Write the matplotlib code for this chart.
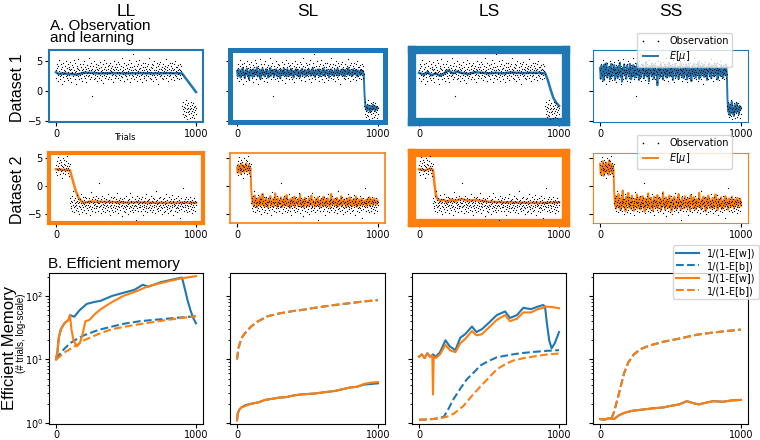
import numpy as np
import matplotlib
matplotlib.use('Agg')
import matplotlib.pyplot as plt

# ---------------- data (values in tenths for the observation / noisy series) -------------
obs1 = [34,21,45,29,38,17,26,41,33,52,24,30,19,36,44,27,31,12,39,28,47,23,35,30,16,
        42,29,33,25,50,38,21,27,44,31,18,36,40,26,34,48,22,30,37,15,29,43,32,24,39,
        28,51,35,20,31,46,26,33,11,38,41,29,24,36,53,30,19,34,27,45,32,22,40,28,35,
        17,44,31,37,25,49,29,33,21,40,36,14,27,43,30,38,24,32,55,26,35,20,41,29,34,
        46,23,30,-8,37,28,42,19,33,50,27,35,22,39,31,45,25,16,36,29,43,34,21,38,30,
        26,48,33,18,40,29,35,24,44,31,13,37,27,52,30,21,39,34,25,46,32,28,41,20,36,
        30,43,23,35,29,47,19,38,33,26,42,31,15,36,28,50,34,22,40,27,37,45,24,32,29,
        39,21,34,48,27,31,44,18,36,30,25,41,33,54,23,35,28,40,16,32,46,29,37,26,43,
        31,24,38,20,45,33,29,51,27,36,14,40,30,22,47,34,26,39,32,62,25,35,19,42,28,
        37,30,49,23,34,27,41,17,33,44,29,36,24,52,31,20,38,26,43,35,28,15,40,32,46,
        25,34,21,39,30,47,27,36,18,42,33,29,45,24,37,31,55,22,35,28,40,19,32,44,26,
        38,29,43,16,34,27,50,31,23,39,35,20,46,30,26,41,33,12,37,28,44,32,24,48,36,
        27,40,22,35,30,45,19,33,38,25,42,29,36,21,53,31,27,39,34,16,43,30,37,24,46,
        32,26,41,35,20,38,29,47,23,34,30,44,18,36,27,50,33,25,40,31,22,39,35,28,43,
        19,37,30,45,26,34,41,22,33,28,
        -25,-38,-31,-19,-44,-27,-33,-22,-40,-29,-35,-16,-42,-30,-24,-47,-28,-36,-21,-33,
        -39,-26,-45,-31,-18,-37,-29,-43,-23,-34,-30,-41,-20,-36,-27,-46,-32,-25,-38,-28]

obs2 = [38,25,44,31,19,36,52,28,41,33,22,47,30,37,26,43,15,35,29,50,
        34,24,40,31,46,27,38,21,33,45,29,36,53,24,32,41,18,35,28,39,
        -31,-22,-40,-27,-35,-18,-44,-29,-33,-9,-38,-25,-47,-30,-21,-36,-28,-42,-34,-16,-39,-26,-31,-45,-23,
        -35,-29,-50,-24,-37,-31,-14,-41,-27,-33,-46,-20,-38,-30,-25,-43,-32,-19,-36,-28,-48,-34,-22,-40,-29,
        -26,-43,-33,-21,-38,-30,-52,-27,-35,-11,-41,-29,-24,-37,-45,-31,-20,-34,-28,-39,-23,-46,-32,-36,-17,
        -40,-28,-35,-25,-44,-31,-22,-38,-30,5,-36,-27,-49,-33,-24,-41,-29,-18,-37,-32,-45,-26,-34,-21,-39,
        -30,-47,-23,-36,-28,-42,-33,-15,-38,-27,-44,-31,-25,-51,-35,-29,-20,-40,-34,-26,-43,-30,-37,-22,-46,
        -33,-19,-39,-28,-45,-31,-24,-36,-41,-27,-12,-35,-30,-48,-25,-38,-32,-21,-43,-29,-36,-26,-54,-34,-23,
        -40,-31,-27,-44,-35,-22,-38,-29,-46,-33,-18,-41,-28,-36,-25,-50,-32,-30,-39,-24,-45,-35,-13,-37,-29,
        -26,-42,-34,-20,-39,-31,-47,-28,-36,-23,-43,-33,-27,-60,-35,-29,-17,-40,-32,-25,-44,-30,-37,-21,-38,
        -34,-28,-45,-24,-36,-31,-19,-41,-29,-52,-33,-26,-38,-22,-44,-30,-35,-14,-40,-27,-47,-32,-25,-39,-30,
        -23,-37,-43,-29,-34,-18,-40,-31,-26,-46,-35,-28,-21,-42,-33,-38,-24,-49,-30,-36,-27,-8,-41,-32,-25,
        -39,-30,-45,-22,-35,-28,-43,-33,-19,-37,-26,-50,-31,-40,-24,-34,-29,-46,-21,-38,-32,-27,-44,-36,-15,
        -30,-41,-25,-37,-33,-48,-28,-20,-39,-35,-27,-44,-31,-23,-42,-34,-16,-38,-29,-51,-26,-36,-32,-24,-45,
        -33,-21,-40,-30,-37,-27,-46,-34,-18,-39,-31,-25,-43,-35,-29,-57,-32,-22,-41,-28,-36,-4,-38,-30,-26,
        -44,-31,-24,-38,-34,-20,-42,-29,-47,-33,-27,-36,-23,-40,-30,-45,-26,-35,-19,-41,-32,-28,-48,-37,-25,
        -34,-29,-42,-22,-37,-31,-26,-44,-33,-28]

# E[mu] of the fast-adapting models (SL, SS), tenths
sl1 = [33,24,36,27,31,22,35,29,38,26,30,21,34,28,37,25,32,19,29,35,27,33,23,36,30,
       26,34,28,39,24,31,27,35,20,33,29,37,26,32,24,30,36,27,34,22,31,28,38,25,33,
       29,35,23,32,27,36,30,24,34,28,31,21,35,29,33,26,38,27,32,30,24,36,28,33,25,
       31,37,26,34,29,22,33,28,36,30,25,35,27,32,23,34,29,37,26,31,28,35,24,33,30,
       27,36,29,32,25,34,28,38,26,31,23,35,30,27,33,29,36,24,32,28,34,26,37,30,25,
       33,29,35,27,31,22,34,28,36,26,32,30,24,35,29,33,27,37,25,31,28,34,30,26,36,
       29,32,24,35,28,33,27,38,30,26,34,29,31,25,36,28,33,27,35,30,
       24,34,29,32,26,35,28,31,33,27,
       -5,-22,-30,-26,-33,-24,-31,-28,-35,-25,-29,-32,-23,-30,-27,-34,-26,-31,-28,-29]
ss1 = [38,20,42,25,35,17,44,28,31,46,22,37,26,40,19,33,45,24,36,29,43,18,34,39,27,
       21,41,30,47,23,36,15,38,32,44,26,35,20,42,29,37,24,45,31,19,39,27,43,33,22,
       40,25,36,46,28,18,41,34,23,37,30,44,21,35,27,48,24,39,31,16,42,29,36,25,45,
       32,20,38,43,26,34,9,37,28,41,23,46,30,35,19,40,27,44,33,22,38,29,47,24,36,
       26,42,31,18,39,34,45,23,37,28,41,20,35,30,46,25,33,40,21,38,27,44,32,19,36,
       43,24,37,29,16,41,33,26,45,30,22,39,35,28,47,20,34,42,25,38,31,44,23,36,27,
       40,18,35,32,46,26,39,21,43,30,37,24,34,45,28,41,19,36,31,38,
       25,43,29,35,22,40,33,27,44,30,
       -15,-35,-22,-40,-26,-33,-18,-38,-29,-42,-24,-31,-36,-21,-34,-27,-39,-25,-32,-28]
sl2 = [33,24,38,27,35,22,40,29,31,37,25,36,28,41,26,34,30,38,23,32,
       -5,-20,-32,-24,-36,-17,-30,-26,-38,-22,-33,-28,-19,-35,-27,-31,-14,-34,-25,-37,
       -29,-21,-33,-27,-39,-24,-30,-18,-35,-28,-32,-23,-36,-26,-13,-31,-29,-37,-22,-34,
       -27,-32,-20,-38,-25,-30,-35,-21,-33,-28,-16,-36,-26,-31,-24,-39,-29,-22,-34,-27,
       -33,-19,-37,-25,-30,-28,-35,-23,-32,-15,-36,-27,-31,-24,-38,-29,-21,-34,-26,-33,
       -28,-36,-22,-31,-27,-17,-35,-25,-32,-30,-37,-23,-29,-34,-20,-33,-26,-38,-28,-24,
       -31,-35,-19,-32,-27,-36,-24,-30,-22,-34,-29,-37,-25,-14,-33,-28,-31,-23,-35,-26,
       -32,-21,-37,-29,-25,-34,-30,-18,-36,-27,-33,-24,-31,-28,-38,-22,-35,-26,-30,-20,
       -34,-29,-25,-36,-31,-23,-33,-27,-19,-37,-28,-32,-24,-35,-26,-30,-22,-34,-29,-27,
       -33,-25,-31,-36,-23,-28,-32,-20,-35,-26,-30,-24,-34,-28,-22,-31,-27,-33,-25,-29]
ss2 = [40,21,36,27,44,18,33,38,24,42,29,35,20,46,31,26,39,23,37,30,
       -10,-35,-18,-40,-24,-31,-14,-37,-27,-43,-21,-33,-8,-38,-26,-30,-45,-19,-34,-25,
       -12,-39,-29,-22,-41,-17,-35,-28,-44,-23,-32,-36,-15,-40,-26,-31,-20,-42,-27,-34,
       -18,-37,-30,-46,-22,-33,-25,-39,-13,-35,-29,-41,-21,-32,-27,-44,-19,-36,-24,-38,
       -31,-16,-40,-28,-34,-22,-43,-26,-37,-11,-33,-29,-42,-20,-35,-25,-39,-30,-17,-36,
       -27,-45,-23,-32,-38,-19,-34,-28,-41,-24,-31,-14,-37,-26,-43,-30,-21,-35,-29,-40,
       -18,-33,-25,-39,-22,-36,-28,-44,-16,-32,-27,-38,-20,-35,-30,-42,-23,-34,-26,-37,
       -12,-31,-29,-41,-24,-36,-19,-33,-27,-45,-22,-38,-30,-17,-35,-25,-40,-28,-32,-21,
       -39,-26,-34,-15,-37,-29,-43,-23,-31,-27,-36,-20,-41,-28,-33,-24,-38,-18,-35,-30,
       -25,-42,-22,-34,-29,-37,-19,-32,-26,-40,-24,-36,-28,-31,-21,-38,-27,-33,-23,-35]

# E[mu] of the slow models (LL, LS): trial, value
ll1_t = [0, 20, 50, 100, 150, 200, 250, 300, 400, 500, 600, 700, 800, 900, 1000]
ll1_v = [3.1, 2.8, 2.9, 2.8, 2.7, 3.0, 3.0, 2.9, 2.95, 2.9, 2.95, 2.9, 2.95, 2.9, -0.2]
ls1_t = [0, 30, 60, 90, 120, 150, 180, 210, 240, 270, 300, 350, 400, 450, 500, 550, 600,
         650, 700, 750, 800, 850, 880, 900, 920, 940, 960, 980, 1000]
ls1_v = [3.0, 2.7, 3.1, 2.6, 2.9, 2.5, 2.9, 3.4, 2.9, 3.2, 3.0, 2.8, 3.1, 3.0, 2.9, 3.0, 2.9,
         3.05, 3.0, 2.95, 3.0, 3.0, 2.9, 3.0, 1.8, 0.2, -1.2, -2.0, -2.5]
ll2_t = [0, 50, 100, 120, 140, 160, 180, 200, 250, 300, 400, 500, 600, 700, 800, 900, 1000]
ll2_v = [3.0, 2.9, 2.8, 1.0, -0.8, -2.0, -2.7, -3.0, -2.75, -2.8, -2.85, -2.95, -2.9, -3.0, -3.0, -2.95, -3.0]
ls2_t = [0, 40, 80, 100, 110, 120, 130, 150, 180, 200, 230, 260, 300, 350, 400, 500, 600, 700, 800, 900, 1000]
ls2_v = [3.0, 2.8, 3.1, 2.9, 0.5, -1.5, -2.2, -2.6, -2.5, -2.9, -2.4, -2.7, -2.3, -2.6, -2.5, -2.8, -2.9,
         -2.95, -3.0, -3.0, -2.9]

# Efficient memory: 1/(1-E[w]) and 1/(1-E[b]) per model, dataset 1 (blue) / dataset 2 (orange)
ll_w1_t = [0, 10, 20, 35, 60, 90, 100, 130, 170, 220, 270, 320, 400, 500, 560, 620, 660, 750, 850, 900,
           920, 940, 960, 980, 1000]
ll_w1_v = [10, 13, 22, 30, 37, 42, 50, 47, 60, 75, 80, 84, 100, 115, 125, 150, 140, 165, 185, 195,
           130, 85, 60, 45, 37]
ll_w2_t = [0, 10, 20, 35, 60, 90, 100, 110, 125, 148, 170, 190, 210, 240, 270, 320, 400, 480, 580, 650, 700, 800, 900, 1000]
ll_w2_v = [10, 13, 22, 30, 37, 42, 50, 30, 20, 16, 18, 25, 40, 42, 50, 62, 80, 100, 120, 140, 150, 170, 190, 205]
ll_b_t = [0, 25, 50, 100, 150, 200, 300, 400, 500, 600, 700, 800, 900, 1000]
ll_b1_v = [10, 12, 14, 18, 21, 24, 29, 33, 37, 40, 42, 44, 46, 48]
ll_b2_v = [10, 11, 12.5, 14.5, 17, 20, 25, 30, 33, 36, 39, 42, 45, 48]

sl_w_t = [0, 5, 15, 30, 60, 100, 150, 200, 250, 300, 350, 400, 450, 500, 550, 600, 650, 700, 750, 800, 850, 900, 950, 1000]
sl_w1_v = [1.1, 1.4, 1.6, 1.75, 1.9, 2.0, 2.1, 2.3, 2.4, 2.5, 2.55, 2.7, 2.8, 2.85, 2.9, 3.0, 3.1, 3.2, 3.4, 3.6, 3.7, 4.0, 4.1, 4.2]
sl_w2_v = [1.1, 1.4, 1.6, 1.75, 1.85, 2.0, 2.1, 2.3, 2.4, 2.5, 2.55, 2.7, 2.8, 2.85, 2.9, 3.0, 3.1, 3.2, 3.4, 3.6, 3.7, 4.1, 4.3, 4.4]
sl_b_t = [0, 10, 20, 35, 50, 76, 100, 150, 218, 300, 400, 455, 550, 692, 800, 900, 1000]
sl_b_v = [10, 15, 18, 22, 25, 29, 33, 40, 48, 53, 58, 60, 65, 72, 77, 82, 86]

ls_w1_t = [0, 20, 40, 60, 80, 100, 120, 150, 189, 220, 260, 295, 330, 378, 410, 450, 500, 556, 615, 650,
           700, 745, 800, 850, 887, 900, 915, 930, 947, 970, 1000]
ls_w1_v = [11, 12, 10.5, 12.5, 11, 12, 11, 13, 20, 16, 14, 22, 25, 33, 27, 30, 38, 50, 57, 45,
           50, 65, 62, 68, 72, 68, 35, 20, 15, 18, 27]
ls_w2_t = [0, 20, 40, 60, 80, 95, 100, 105, 120, 150, 189, 220, 260, 295, 330, 378, 410, 450, 500, 556,
           615, 650, 700, 745, 800, 850, 887, 900, 950, 1000]
ls_w2_v = [11, 12, 10.5, 12.5, 11, 11.5, 2.8, 11, 10.5, 12, 17, 14, 13, 18, 21, 28, 24, 25, 32, 42,
           50, 40, 44, 55, 55, 62, 65, 68, 67, 64]
ls_b1_t = [0, 50, 100, 150, 177, 200, 248, 300, 343, 400, 437, 500, 556, 650, 721, 800, 900, 1000]
ls_b1_v = [1.12, 1.13, 1.15, 1.2, 1.25, 1.5, 2.4, 3.6, 4.9, 6.5, 8, 9.5, 10.8, 11.8, 12.5, 13, 13.6, 14]
ls_b2_t = [0, 50, 100, 150, 200, 250, 319, 380, 437, 500, 556, 620, 673, 750, 839, 920, 1000]
ls_b2_v = [1.12, 1.13, 1.15, 1.18, 1.25, 1.4, 1.86, 2.7, 3.7, 5.2, 7, 8.5, 9.6, 10.5, 11.3, 12, 12.4]

ss_b_t = [0, 50, 83, 100, 120, 142, 170, 201, 240, 284, 350, 450, 550, 687, 800, 900, 1000]
ss_b_v = [1.15, 1.15, 1.2, 1.5, 2.2, 3.4, 6, 9, 12, 14.4, 16.5, 19, 21, 24.5, 26.5, 28, 29.5]
ss_w_t = [0, 30, 60, 100, 130, 160, 190, 230, 280, 332, 380, 450, 500, 560, 616, 660, 700, 760, 805, 870, 930, 1000]
ss_w_v = [1.15, 1.12, 1.18, 1.15, 1.3, 1.4, 1.48, 1.55, 1.6, 1.65, 1.7, 1.75, 1.85, 1.95, 2.2, 2.05, 1.95, 2.1,
          2.2, 2.15, 2.25, 2.3]

models = ['LL', 'SL', 'LS', 'SS']
xticks = [0, 1000]
yticks_obs = [-5, 0, 5]
spine_w = [[1.5, 3.6, 6.0, 0.8], [3.0, 1.2, 6.0, 0.8]]

# ---------------- figure -----------------
BLUE = '#1f77b4'
ORANGE = '#ff7f0e'
plt.rcParams['font.family'] = ['DejaVu Sans']
LAB = ['Liberation Sans', 'DejaVu Sans']

W, H = 760, 440
fig = plt.figure(figsize=(W / 100, H / 100), dpi=100)


def ax_at(x0, y0, x1, y1):
    return fig.add_axes([x0 / W, 1 - y1 / H, (x1 - x0) / W, (y1 - y0) / H])


cols = [(49, 203), (230, 385), (412, 566), (593, 748)]
rows = [(50, 122), (153, 223), (273, 424)]


def tr(vals):
    return np.linspace(0, 999, len(vals))


obs = [np.array(obs1) / 10.0, np.array(obs2) / 10.0]
fast = {('SL', 0): sl1, ('SS', 0): ss1, ('SL', 1): sl2, ('SS', 1): ss2}
slow = {('LL', 0): (ll1_t, ll1_v), ('LS', 0): (ls1_t, ls1_v),
        ('LL', 1): (ll2_t, ll2_v), ('LS', 1): (ls2_t, ls2_v)}
ylims = [(-5.2, 6.8), (-6.6, 5.9)]
colors = [BLUE, ORANGE]

for r in range(2):
    c_ = colors[r]
    for c, m in enumerate(models):
        ax = ax_at(cols[c][0], rows[r][0], cols[c][1], rows[r][1])
        ax.plot(tr(obs[r]), obs[r], '.', color='k', markersize=1.8, markeredgewidth=0,
                label='Observation', zorder=3)
        if (m, r) in fast:
            v = np.array(fast[(m, r)]) / 10.0
            ax.plot(tr(v), v, '-', color=c_, lw=1.4, label=r'$E[\mu]$', zorder=2)
        else:
            t, v = slow[(m, r)]
            ax.plot(t, v, '-', color=c_, lw=1.8, label=r'$E[\mu]$', zorder=2)
        ax.set_ylim(*ylims[r])
        ax.set_xticks(xticks)
        ax.set_yticks(yticks_obs)
        ax.tick_params(labelsize=7, length=3, pad=2)
        if c > 0:
            ax.tick_params(labelleft=False)
        for s in ax.spines.values():
            s.set_color(c_)
            s.set_linewidth(spine_w[r][c])
        if c == 3:
            top = 33 if r == 0 else 135
            ax.legend(loc='upper right', bbox_to_anchor=(732 / W, 1 - top / H),
                      bbox_transform=fig.transFigure, borderaxespad=0, fontsize=7,
                      numpoints=2, handlelength=2.2, borderpad=0.35, labelspacing=0.3,
                      markerscale=1.3)

# efficient memory row
em = [
    [(ll_w1_t, ll_w1_v, BLUE, '-'), (ll_b_t, ll_b1_v, BLUE, '--'),
     (ll_w2_t, ll_w2_v, ORANGE, '-'), (ll_b_t, ll_b2_v, ORANGE, '--')],
    [(sl_w_t, sl_w1_v, BLUE, '-'), (sl_b_t, sl_b_v, BLUE, '--'),
     (sl_w_t, sl_w2_v, ORANGE, '-'), (sl_b_t, sl_b_v, ORANGE, '--')],
    [(ls_w1_t, ls_w1_v, BLUE, '-'), (ls_b1_t, ls_b1_v, BLUE, '--'),
     (ls_w2_t, ls_w2_v, ORANGE, '-'), (ls_b2_t, ls_b2_v, ORANGE, '--')],
    [(ss_w_t, ss_w_v, BLUE, '-'), (ss_b_t, ss_b_v, BLUE, '--'),
     (ss_w_t, ss_w_v, ORANGE, '-'), (ss_b_t, ss_b_v, ORANGE, '--')],
]
em_labels = ['1/(1-E[w])', '1/(1-E[b])', '1/(1-E[w])', '1/(1-E[b])']
for c in range(4):
    ax = ax_at(cols[c][0], rows[2][0], cols[c][1], rows[2][1])
    for (t, v, col, ls), lab in zip(em[c], em_labels):
        ax.plot(t, v, ls, color=col, lw=1.5, label=lab)
    ax.set_yscale('log')
    ax.set_ylim(0.96, 230)
    ax.set_xticks(xticks)
    ax.tick_params(labelsize=7, pad=1.5)
    ax.tick_params(which='major', length=2.8)
    ax.tick_params(which='minor', length=1.6)
    if c > 0:
        ax.tick_params(which='both', labelleft=False)
    if c == 3:
        ax.legend(loc='upper right', bbox_to_anchor=(759 / W, 1 - 245 / H),
                  bbox_transform=fig.transFigure, borderaxespad=0, fontsize=7,
                  handlelength=2.4, borderpad=0.35, labelspacing=0.25)

# texts
for c, m in enumerate(models):
    fig.text((cols[c][0] + cols[c][1]) / 2 / W, 1 - 11 / H, m, ha='center', va='center',
             fontsize=12.5, family=LAB)
fig.text(50 / W, 1 - 19 / H, 'A. Observation\nand learning', ha='left', va='top',
         fontsize=11, family=LAB, linespacing=0.85)
fig.text(48 / W, 1 - 268 / H, 'B. Efficient memory', ha='left', va='baseline',
         fontsize=11, family=LAB)
fig.text(125 / W, 1 - 137 / H, 'Trials', ha='center', va='center', fontsize=6)
fig.text(18 / W, 1 - 88 / H, 'Dataset 1', rotation=90, ha='center', va='center',
         fontsize=11.5, family=LAB)
fig.text(18 / W, 1 - 190 / H, 'Dataset 2', rotation=90, ha='center', va='center',
         fontsize=11.5, family=LAB)
fig.text(10 / W, 1 - 348 / H, 'Efficient Memory', rotation=90, ha='center', va='center',
         fontsize=12, family=LAB)
fig.text(21.5 / W, 1 - 333 / H, '(# trials, log-scale)', rotation=90, ha='center', va='center',
         fontsize=7, family=LAB)

fig.savefig('out.png', dpi=100)
